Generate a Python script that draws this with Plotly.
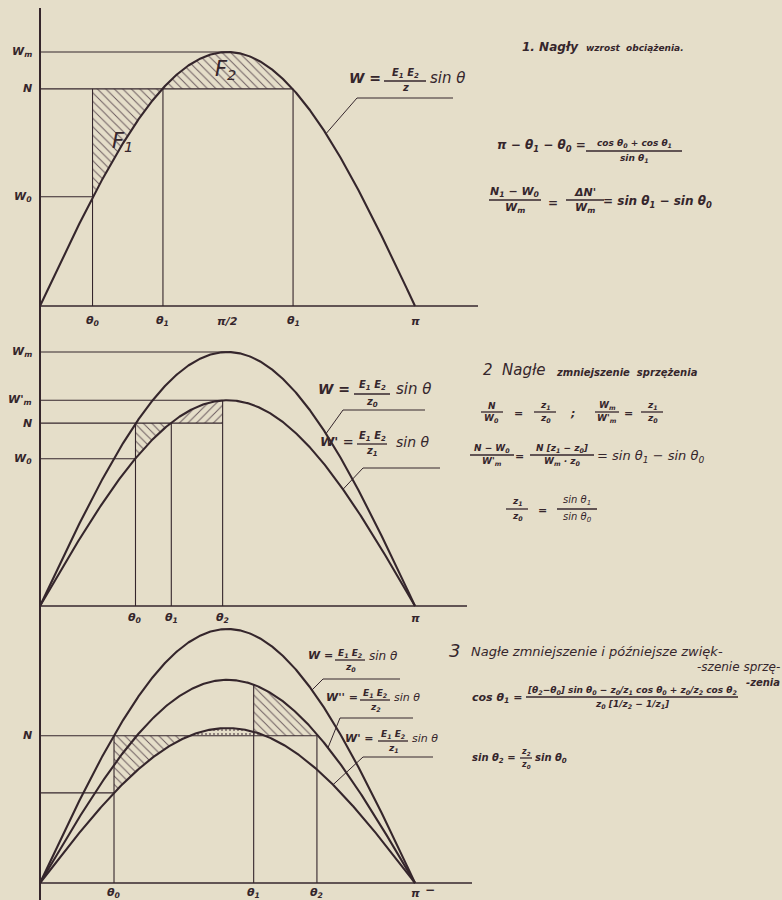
import numpy as np
import plotly.graph_objects as go

FIG_W, FIG_H = 782, 900
INK = "#35262c"
PAPER = "#e5dec9"
FONT = "DejaVu Sans"

# ---------------------------------------------------------------------------
# Diagram values (power in units of the largest amplitude, angles in radians)
# ---------------------------------------------------------------------------
# 1. sudden load increase
p1_amplitudes = [1.0]                  # W = E1E2/z sin θ
p1_angles = [0.44, 1.03, 2.12]         # θ0, θ1, θ1 (falling side)
p1_levels = [1.0, 0.855, 0.43]         # Wm, N, W0
p1_tick_labels = ["θ<sub>0</sub>", "θ<sub>1</sub>", "π/2", "θ<sub>1</sub>", "π"]

# 2. sudden reduction of coupling
p2_amplitudes = [1.0, 0.81]            # W (z0), W' (z1)
p2_angles = [0.80, 1.10, 1.53]         # θ0, θ1, θ2
p2_levels = [1.0, 0.81, 0.72, 0.58]    # Wm, W'm, N, W0
p2_tick_labels = ["θ<sub>0</sub>", "θ<sub>1</sub>", "θ<sub>2</sub>", "π"]

# 3. reduction followed by an increase of coupling
p3_amplitudes = [1.0, 0.80, 0.61]      # W (z0), W'' (z2), W' (z1)
p3_angles = [0.62, 1.79, 2.32]         # θ0, θ1, θ2
p3_levels = [0.58, 0.355]              # N, W' at θ0
p3_tick_labels = ["θ<sub>0</sub>", "θ<sub>1</sub>", "θ<sub>2</sub>", "π"]

# ---------------------------------------------------------------------------
# Page geometry: one shared angle axis, one value axis per panel
# ---------------------------------------------------------------------------
ORIGIN_PX = 40
PX_PER_RAD = 375 / np.pi
UNIT_PX = 254
BASES = [306, 606, 883]          # baseline of each panel (px from top)
AXIS_END = [478, 467, 472]       # right end of each theta axis (px)
YREF = ["y", "y2", "y3"]

def t_of(px):
    return (px - ORIGIN_PX) / PX_PER_RAD

def v_of(py, panel):
    return (BASES[panel] - py) / UNIT_PX

def px_paper(x):
    return x / FIG_W

def py_paper(y):
    return 1 - y / FIG_H

theta = np.linspace(0, np.pi, 500)
fig = go.Figure()

def line(xs, ys, panel, width=1.1):
    fig.add_trace(go.Scatter(x=xs, y=ys, mode="lines", yaxis=YREF[panel],
                             line=dict(color=INK, width=width),
                             hoverinfo="skip", showlegend=False))

def curve(amp, panel):
    line(theta, amp * np.sin(theta), panel, width=2.1)

def hatch(xs, ys, panel, shape="\\", size=6):
    fig.add_trace(go.Scatter(x=xs, y=ys, mode="lines", fill="toself",
                             yaxis=YREF[panel], line=dict(width=0, color=INK),
                             fillcolor="rgba(0,0,0,0)",
                             fillpattern=dict(shape=shape, fgcolor="#6a5a5e",
                                              bgcolor="rgba(0,0,0,0)",
                                              size=size, solidity=0.16,
                                              fillmode="replace"),
                             hoverinfo="skip", showlegend=False))

def region_below(amp, level, a, b, panel, shape="\\"):
    """area between a horizontal level (top) and the curve (bottom)"""
    t = np.linspace(a, b, 120)
    xs = np.concatenate([[a, b], t[::-1]])
    ys = np.concatenate([[level, level], (amp * np.sin(t))[::-1]])
    hatch(xs, ys, panel, shape)

def region_above(amp, level, a, b, panel, shape="\\", size=6):
    """area between the curve (top) and a horizontal level (bottom)"""
    t = np.linspace(a, b, 120)
    xs = np.concatenate([t, [b, a]])
    ys = np.concatenate([amp * np.sin(t), [level, level]])
    hatch(xs, ys, panel, shape, size)

def text(x, y, s, size=12, anchor="left", bold=True):
    s = f"<b>{s}</b>" if bold else s
    fig.add_annotation(x=px_paper(x), y=py_paper(y), xref="paper", yref="paper",
                       text=f"<i>{s}</i>", showarrow=False,
                       xanchor=anchor, yanchor="middle", borderpad=0,
                       font=dict(family=FONT, size=size, color=INK))

def frac(cx, ybar, num, den, w, size=10, bold=True):
    if bold:
        num, den = f"<b>{num}</b>", f"<b>{den}</b>"
    fig.add_shape(type="line", xref="paper", yref="paper",
                  x0=px_paper(cx - w / 2), x1=px_paper(cx + w / 2),
                  y0=py_paper(ybar), y1=py_paper(ybar),
                  line=dict(color=INK, width=1.3))
    fig.add_annotation(x=px_paper(cx), y=py_paper(ybar - 0.5), xref="paper", yref="paper",
                       text=f"<i>{num}</i>", showarrow=False, xanchor="center",
                       yanchor="bottom", borderpad=0,
                       font=dict(family=FONT, size=size, color=INK))
    fig.add_annotation(x=px_paper(cx), y=py_paper(ybar + 0.5), xref="paper", yref="paper",
                       text=f"<i>{den}</i>", showarrow=False, xanchor="center",
                       yanchor="top", borderpad=0,
                       font=dict(family=FONT, size=size, color=INK))

def leader(panel, amp, start_px, corner, end_px):
    """thin pointer from a curve to the underline of its label"""
    t0 = t_of(start_px)
    line([t0, t_of(corner[0]), t_of(end_px)],
         [amp * np.sin(t0), v_of(corner[1], panel), v_of(corner[1], panel)],
         panel, width=1.0)

def ticks(panel, positions, labels, ypx):
    for pos, lab in zip(positions, labels):
        fig.add_annotation(x=pos, y=v_of(ypx, panel), xref="x", yref=YREF[panel],
                           text=f"<i><b>{lab}</b></i>", showarrow=False,
                           xanchor="center", yanchor="middle",
                           font=dict(family=FONT, size=11, color=INK))

def ylabel(panel, level, label, xpx=34):
    fig.add_annotation(x=t_of(xpx), y=level, xref="x", yref=YREF[panel],
                       text=f"<i><b>{label}</b></i>", showarrow=False,
                       xanchor="right", yanchor="middle",
                       font=dict(family=FONT, size=11, color=INK))

# ---------------------------------------------------------------------------
# Panel 1
# ---------------------------------------------------------------------------
A = p1_amplitudes[0]
t0, t1, t1b = p1_angles
Wm, N, W0 = p1_levels
region_below(A, N, t0, t1, 0, "\\")
region_above(A, N, t1, t1b, 0, "\\")
curve(A, 0)
line([0, np.pi / 2], [Wm, Wm], 0)
line([0, t1b], [N, N], 0)
line([0, t0], [W0, W0], 0)
for t in (t0, t1, t1b):
    line([t, t], [0, N], 0)
line([0, t_of(AXIS_END[0])], [0, 0], 0, width=1.6)
ticks(0, [t0, t1, np.pi / 2, t1b, np.pi], p1_tick_labels, 321)
ylabel(0, Wm, "W<sub>m</sub>")
ylabel(0, N, "N")
ylabel(0, W0, "W<sub>0</sub>")
text(122, 142, "F<sub>1</sub>", size=21, anchor="center", bold=False)
text(226, 70, "F<sub>2</sub>", size=21, anchor="center", bold=False)
leader(0, A, 326, (357, 98), 453)
text(382, 78, "W =", size=14, anchor="right")
frac(405, 81, "E<sub>1</sub> E<sub>2</sub>", "z", 42, size=10)
text(429, 78, "sin θ", size=15, bold=False)

text(521, 47, "1. Nagły", size=12)
text(585, 48, "wzrost  obciążenia.", size=9)
text(587, 146, "π − θ<sub>1</sub> − θ<sub>0</sub> =", size=12, anchor="right")
frac(634, 151, "cos θ<sub>0</sub> + cos θ<sub>1</sub>", "sin θ<sub>1</sub>", 96, size=9)
frac(515, 200, "N<sub>1</sub> − W<sub>0</sub>", "W<sub>m</sub>", 52, size=11)
text(553, 203, "=", size=12, anchor="center")
frac(585, 200, "ΔN'", "W<sub>m</sub>", 38, size=11)
text(602, 202, "= sin θ<sub>1</sub> − sin θ<sub>0</sub>", size=12)

# ---------------------------------------------------------------------------
# Panel 2
# ---------------------------------------------------------------------------
A0, A1 = p2_amplitudes
t0, t1, t2 = p2_angles
Wm, Wm1, N, W0 = p2_levels
region_below(A1, N, t0, t1, 1, "\\")
region_above(A1, N, t1, t2, 1, "/")
curve(A0, 1)
curve(A1, 1)
line([0, np.pi / 2], [Wm, Wm], 1)
line([0, t2], [Wm1, Wm1], 1)
line([0, t2], [N, N], 1)
line([0, t0], [W0, W0], 1)
line([t0, t0], [0, N], 1)
line([t1, t1], [0, N], 1)
line([t2, t2], [0, A1 * np.sin(t2)], 1)
line([0, t_of(AXIS_END[1])], [0, 0], 1, width=1.6)
ticks(1, [t0, t1, t2, np.pi], p2_tick_labels, 618)
ylabel(1, Wm, "W<sub>m</sub>")
ylabel(1, Wm1, "W'<sub>m</sub>")
ylabel(1, N, "N")
ylabel(1, W0, "W<sub>0</sub>")
leader(1, A0, 326, (343, 410), 425)
text(351, 389, "W =", size=14, anchor="right")
frac(372, 394, "E<sub>1</sub> E<sub>2</sub>", "z<sub>0</sub>", 36, size=10)
text(395, 389, "sin θ", size=15, bold=False)
leader(1, A1, 343, (363, 468), 440)
text(355, 441, "W' =", size=13, anchor="right")
frac(372, 444, "E<sub>1</sub> E<sub>2</sub>", "z<sub>1</sub>", 30, size=10)
text(395, 442, "sin θ", size=14, bold=False)

text(482, 370, "2  Nagłe", size=15, bold=False)
text(555, 372, "zmniejszenie  sprzężenia", size=10)
frac(492, 412, "N", "W<sub>0</sub>", 22, size=9)
text(518, 413, "=", size=11, anchor="center")
frac(545, 412, "z<sub>1</sub>", "z<sub>0</sub>", 22, size=9)
text(572, 414, ";", size=11, anchor="center")
frac(607, 412, "W<sub>m</sub>", "W'<sub>m</sub>", 24, size=9)
text(628, 413, "=", size=11, anchor="center")
frac(652, 412, "z<sub>1</sub>", "z<sub>0</sub>", 22, size=9)
frac(492, 455, "N − W<sub>0</sub>", "W'<sub>m</sub>", 44, size=9)
text(519, 456, "=", size=11, anchor="center")
frac(562, 455, "N [z<sub>1</sub> − z<sub>0</sub>]", "W<sub>m</sub> · z<sub>0</sub>", 64, size=9)
text(596, 456, "= sin θ<sub>1</sub> − sin θ<sub>0</sub>", size=13, bold=False)
frac(517, 509, "z<sub>1</sub>", "z<sub>0</sub>", 22, size=9)
text(542, 510, "=", size=11, anchor="center")
frac(577, 509, "sin θ<sub>1</sub>", "sin θ<sub>0</sub>", 40, size=10, bold=False)

# ---------------------------------------------------------------------------
# Panel 3
# ---------------------------------------------------------------------------
A0, A2, A1 = p3_amplitudes
t0, t1, t2 = p3_angles
N, W0 = p3_levels
ta = np.arcsin(N / A1)
region_below(A1, N, t0, ta, 2, "\\")
region_above(A1, N, ta, np.pi - ta, 2, ".", size=4)
region_above(A2, N, t1, t2, 2, "\\")
curve(A0, 2)
curve(A2, 2)
curve(A1, 2)
line([0, t2], [N, N], 2)
line([0, t0], [W0, W0], 2)
line([t0, t0], [0, N], 2)
line([t1, t1], [0, A2 * np.sin(t1)], 2)
line([t2, t2], [0, N], 2)
line([0, t_of(AXIS_END[2])], [0, 0], 2, width=1.6)
ticks(2, [t0, t1, t2, np.pi], p3_tick_labels, 893)
text(430, 890, "−", size=12, anchor="center")
ylabel(2, N, "N")
leader(2, A0, 312, (323, 679), 400)
text(334, 655, "W =", size=11, anchor="right")
frac(350, 660, "E<sub>1</sub> E<sub>2</sub>", "z<sub>0</sub>", 30, size=9)
text(368, 656, "sin θ", size=12, bold=False)
leader(2, A2, 328, (340, 718), 413)
text(359, 697, "W'' =", size=11, anchor="right")
frac(375, 700, "E<sub>1</sub> E<sub>2</sub>", "z<sub>2</sub>", 30, size=9)
text(393, 697, "sin θ", size=11, bold=False)
leader(2, A1, 333, (363, 757), 433)
text(375, 738, "W' =", size=11, anchor="right")
frac(393, 741, "E<sub>1</sub> E<sub>2</sub>", "z<sub>1</sub>", 30, size=9)
text(411, 738, "sin θ", size=11, bold=False)

text(448, 650, "3", size=18, bold=False)
text(470, 651, "Nagłe zmniejszenie i późniejsze zwięk-", size=13, bold=False)
text(781, 667, "-szenie sprzę-", size=12, anchor="right", bold=False)
text(781, 682, "-zenia", size=10, anchor="right")
text(523, 698, "cos θ<sub>1</sub> =", size=11, anchor="right")
frac(632, 697,
     "[θ<sub>2</sub>−θ<sub>0</sub>] sin θ<sub>0</sub> − z<sub>0</sub>/z<sub>1</sub> cos θ<sub>0</sub>"
     " + z<sub>0</sub>/z<sub>2</sub> cos θ<sub>2</sub>",
     "z<sub>0</sub> [1/z<sub>2</sub> − 1/z<sub>1</sub>]", 212, size=9)
text(517, 758, "sin θ<sub>2</sub> =", size=10, anchor="right")
frac(526, 758, "z<sub>2</sub>", "z<sub>0</sub>", 12, size=8)
text(534, 758, "sin θ<sub>0</sub>", size=10)

# shared vertical (power) axis
fig.add_shape(type="line", xref="x", yref="paper", x0=0, x1=0,
              y0=0, y1=py_paper(8), line=dict(color=INK, width=2))

# ---------------------------------------------------------------------------
# Layout
# ---------------------------------------------------------------------------
hidden = dict(visible=False, showgrid=False, zeroline=False, fixedrange=True)
fig.update_layout(
    width=FIG_W, height=FIG_H,
    margin=dict(l=0, r=0, t=0, b=0),
    paper_bgcolor=PAPER, plot_bgcolor=PAPER,
    showlegend=False,
    xaxis=dict(range=[t_of(0), t_of(FIG_W)], domain=[0, 1], **hidden),
    yaxis=dict(range=[v_of(FIG_H, 0), v_of(0, 0)], domain=[0, 1], **hidden),
    yaxis2=dict(range=[v_of(FIG_H, 1), v_of(0, 1)], overlaying="y", **hidden),
    yaxis3=dict(range=[v_of(FIG_H, 2), v_of(0, 2)], overlaying="y", **hidden),
)

fig.write_html("out.html", config=dict(displayModeBar=False))
